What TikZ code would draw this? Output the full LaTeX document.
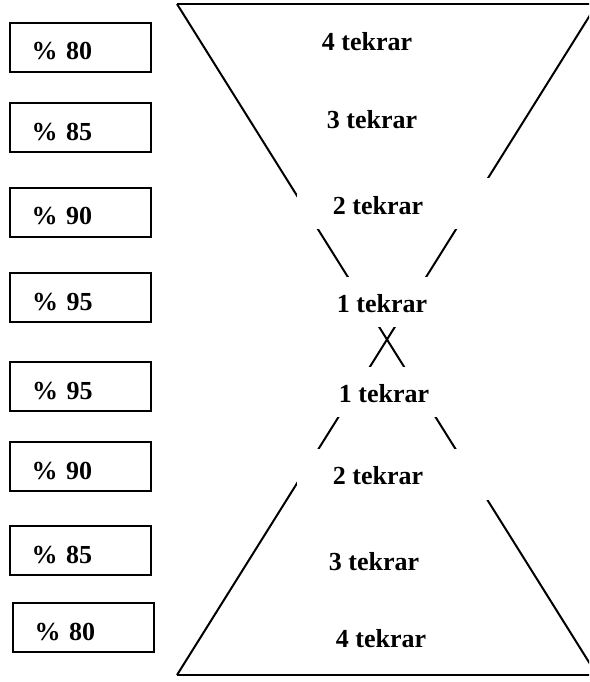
\documentclass[tikz,border=0pt]{standalone}
\usepackage{fontspec}
\setmainfont{Liberation Serif}

\tikzset{
  pbox/.style={draw,line width=2pt,minimum width=141pt,minimum height=49pt,text width=97pt,inner xsep=22pt,align=left,text height=25pt,text depth=0pt,font=\fontsize{26}{30}\selectfont\bfseries},
  rep/.style={inner sep=0pt,font=\fontsize{26}{30}\selectfont\bfseries},
  cover/.style={fill=white,inner sep=0pt}
}

\begin{document}
\begin{tikzpicture}[x=1pt,y=-1pt]
\useasboundingbox (0,0) rectangle (589,682);
\clip (0,0) rectangle (589,682);

\coordinate (tl) at (177,4);
\coordinate (tr) at (597,4);
\coordinate (bl) at (177,675);
\coordinate (br) at (597,675);
\draw[line width=2.4pt] (tl)--(tr);
\draw[line width=2.4pt] (bl)--(br);
\draw[line width=2pt] (tl)--(br);
\draw[line width=2pt] (tr)--(bl);

\node [pbox] (p1) at (80,47.5) {\% 80};
\node [pbox] (p2) at (80,127.5) {\% 85};
\node [pbox] (p3) at (80,212) {\% 90};
\node [pbox] (p4) at (80.5,297.5) {\% 95};
\node [pbox] (p5) at (80.5,386.5) {\% 95};
\node [pbox] (p6) at (80,466.5) {\% 90};
\node [pbox] (p7) at (80,550.5) {\% 85};
\node [pbox] (p8) at (83,627.5) {\% 80};

\node [rep] (r4u) at (367,41.5) {4 tekrar};
\node [rep] (r3u) at (372,120) {3 tekrar};
\node [cover,minimum width=193pt,minimum height=51pt,label={[rep,xshift=-15.5pt,yshift=-2.5pt]center:2 tekrar}] (r2u) at (393.5,203.5) {};
\node [cover,minimum width=110pt,minimum height=50pt,label={[rep,xshift=-3pt,yshift=-2pt]center:1 tekrar}] (r1u) at (385,302) {};
\node [cover,minimum width=110pt,minimum height=50pt,label={[rep,xshift=-1pt,yshift=-2pt]center:1 tekrar}] (r1d) at (385,392) {};
\node [cover,minimum width=193pt,minimum height=51pt,label={[rep,xshift=-15.5pt,yshift=-1.5pt]center:2 tekrar}] (r2d) at (393.5,474.5) {};
\node [rep] (r3d) at (374,562) {3 tekrar};
\node [rep] (r4d) at (381,639) {4 tekrar};

\end{tikzpicture}
\end{document}
